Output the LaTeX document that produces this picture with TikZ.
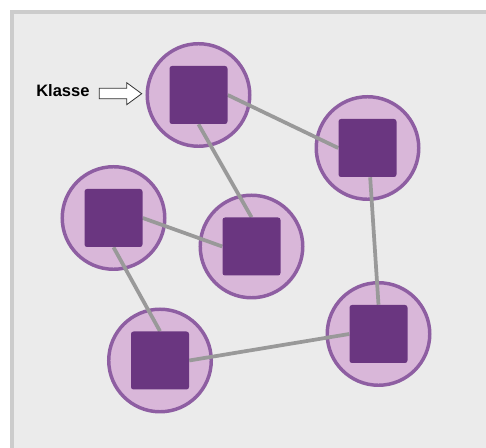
\documentclass[tikz,border=0pt]{standalone}
\usepackage{fontspec}
\setmainfont{Liberation Sans}
\definecolor{panelbg}{HTML}{EBEBEB}
\definecolor{framegray}{HTML}{CCCCCC}
\definecolor{ringfill}{HTML}{D9B7D9}
\definecolor{ringline}{HTML}{8E5EA2}
\definecolor{boxfill}{HTML}{6A3680}
\definecolor{linkgray}{HTML}{999999}
\pgfdeclarelayer{bg}
\pgfdeclarelayer{mid}
\pgfsetlayers{bg,mid,main}
\begin{document}
\begin{tikzpicture}[x=0.75pt,y=-0.75pt,
  ring/.style={circle, draw=ringline, fill=ringfill, line width=2.6pt,
    minimum size=76.9pt, inner sep=0pt},
  klasse/.style={rectangle, fill=boxfill, rounded corners=1.9pt,
    minimum size=43.5pt, inner sep=0pt},
  link/.style={draw=linkgray, line width=2.8pt},
  pointer/.style={draw=black!80, fill=white, line width=0.6pt, line join=miter},
  caption/.style={inner sep=0pt, font=\bfseries\fontsize{12.4}{14}\selectfont}]
\useasboundingbox (0,0) rectangle (486,448);
\clip (0,0) rectangle (486,448);

\begin{pgfonlayer}{bg}
  % panel with its frame
  \fill[white] (0,0) rectangle (486,448);
  \draw[draw=framegray, fill=panelbg, line width=3pt] (12,12) rectangle (520,480);
  % rings
  \node[ring] (c1) at (198.5,95) {};
  \node[ring] (c2) at (367.5,148) {};
  \node[ring] (c3) at (113.5,218) {};
  \node[ring] (c4) at (251.5,246.5) {};
  \node[ring] (c5) at (160,360.5) {};
  \node[ring] (c6) at (378.5,334) {};
\end{pgfonlayer}

% class boxes
\node[klasse] (s1) at (c1) {};
\node[klasse] (s2) at (c2) {};
\node[klasse] (s3) at (c3) {};
\node[klasse] (s4) at (c4) {};
\node[klasse] (s5) at (c5) {};
\node[klasse] (s6) at (c6) {};

% links between the boxes
\begin{pgfonlayer}{mid}
  \draw[link] (s1.east) -- (s2.west);
  \draw[link] (s1.south) -- (s4.north);
  \draw[link] (s3.east) -- (s4.west);
  \draw[link] (s3.south) -- (s5.north);
  \draw[link] (s5.east) -- (s6.west);
  \draw[link] ([xshift=2pt]s2.south) -- (s6.north);
\end{pgfonlayer}

% label with a hollow block arrow pointing at a class
\coordinate (tip) at (141.7,93.7);
\draw[pointer] (tip) -- ++(-15,-11) -- ++(0,5.5) -- ++(-27.4,0)
  -- ++(0,10.5) -- ++(27.4,0) -- ++(0,6) -- cycle;
\node[caption, anchor=base west] (label) at (36,97) {Klasse};
\end{tikzpicture}
\end{document}
